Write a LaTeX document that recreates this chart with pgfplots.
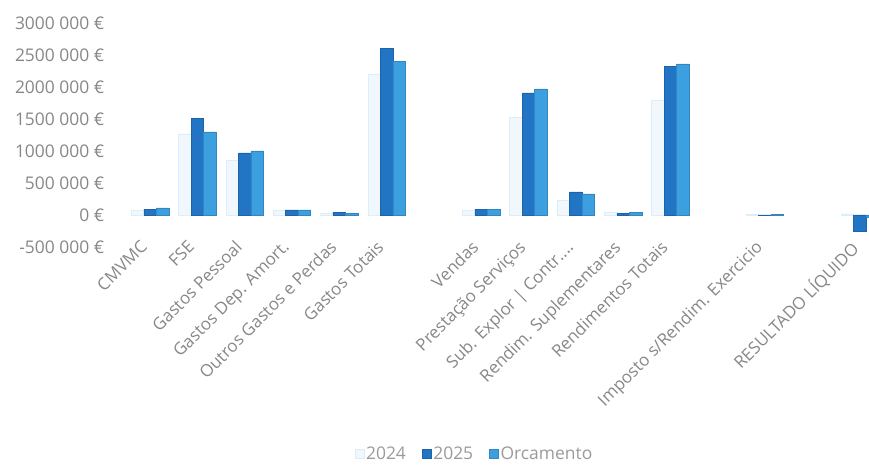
\documentclass[border=0pt]{standalone}
\usepackage{pgfplots}
\pgfplotsset{compat=1.18}
\usepackage{fontspec}
\setmainfont{Open Sans}
\definecolor{c24}{HTML}{F1F8FD}
\definecolor{c24e}{HTML}{DCEEF9}
\definecolor{c25}{HTML}{2274C4}
\definecolor{corc}{HTML}{3C9FE0}
\definecolor{txt}{HTML}{878787}
\definecolor{ltxt}{HTML}{9A9A9A}
\begin{document}
\begin{tikzpicture}[x=1bp,y=1bp]
\useasboundingbox (0,0) rectangle (869,470);
\begin{axis}[
  at={(126.35bp,223bp)}, anchor=south west,
  scale only axis, width=756.8bp, height=224bp,
  xmin=-0.5, xmax=15.5,
  ymin=-500000, ymax=3000000,
  scaled y ticks=false,
  ytick={-500000,0,500000,1000000,1500000,2000000,2500000,3000000},
  yticklabels={-500 000 €,0 €,500 000 €,1000 000 €,1500 000 €,2000 000 €,2500 000 €,3000 000 €},
  xtick={0,1,2,3,4,5,6,7,8,9,10,11,12,13,14,15},
  xticklabels={CMVMC,FSE,Gastos Pessoal,Gastos Dep. Amort.,Outros Gastos e Perdas,Gastos Totais,{},Vendas,Prestação Serviços,{Sub. Explor | Contr.{}.{}.{}.},Rendim. Suplementares,Rendimentos Totais,{},Imposto s/Rendim. Exercicio,{},RESULTADO LÍQUIDO},
  axis line style={draw=none},
  major tick length=0pt,
  yticklabel style={font=\fontsize{17.5}{17.5}\selectfont, text=txt, anchor=east, inner sep=0pt, xshift=-22bp},
  xticklabel style={font=\fontsize{17}{17}\selectfont, text=txt, rotate=45, anchor=north east, inner sep=0pt, xshift=-2bp, yshift=13bp},
  ybar=0pt, bar width=12.5bp,
  legend columns=3,
  legend style={draw=none, fill=none, at={(0.46,-0.925)}, anchor=center,
    inner sep=1bp,
    font=\fontsize{17.5}{17.5}\selectfont, text=ltxt,
    /tikz/every even column/.append style={column sep=14bp}},
  legend image code/.code={\path[#1] (0bp,-4.5bp) rectangle (9bp,4.5bp);},
  clip=false,
]
\addplot[fill=c24, draw=c24e, line width=0.4bp] coordinates {
 (0,70000) (1,1270000) (2,860000) (3,80000) (4,30000) (5,2200000)
 (7,70000) (8,1530000) (9,230000) (10,40000) (11,1800000)
 (13,15000) (15,20000)};
\addplot[fill=c25, draw=c25!85!black, line width=0.4bp] coordinates {
 (0,90000) (1,1510000) (2,970000) (3,80000) (4,45000) (5,2600000)
 (7,90000) (8,1910000) (9,360000) (10,30000) (11,2320000)
 (13,-10000) (15,-260000)};
\addplot[fill=corc, draw=corc!85!black, line width=0.4bp] coordinates {
 (0,110000) (1,1300000) (2,1000000) (3,80000) (4,30000) (5,2400000)
 (7,90000) (8,1970000) (9,330000) (10,40000) (11,2360000)
 (13,15000) (15,-30000)};
\legend{2024,2025,Orcamento}
\end{axis}
\end{tikzpicture}
\end{document}
